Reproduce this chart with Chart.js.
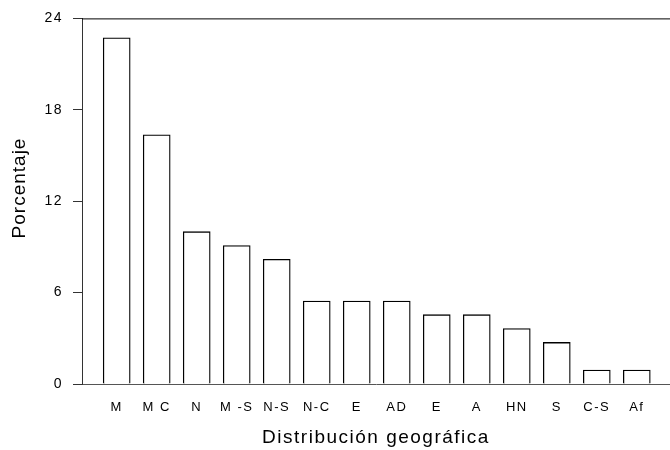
<!DOCTYPE html>
<html>
<head>
<meta charset="utf-8">
<script src="https://cdn.jsdelivr.net/npm/chart.js@4/dist/chart.umd.min.js"></script>
<style>
  html, body { margin: 0; padding: 0; background: #fff; }
  #wrap { width: 670px; height: 450px; }
</style>
</head>
<body>
<div id="wrap"><canvas id="bar-chart-distribucion"></canvas></div>
<script>
// categorias (la E aparece dos veces en el original)
var categorias = ["M", "M C", "N", "M -S", "N-S", "N-C", "E", "AD", "E", "A", "HN", "S", "C-S", "Af"];
var porcentajes = [22.73, 16.36, 10.0, 9.09, 8.18, 5.45, 5.45, 5.45, 4.55, 4.55, 3.64, 2.73, 0.91, 0.91];
var yTicks = [0, 6, 12, 18, 24];
var tituloX = "Distribución geográfica";
var tituloY = "Porcentaje";

var puntos = [];
porcentajes.forEach(function(val, i) {
    puntos.push({ x: i, y: val });
});

// marco superior + titulo del eje y
var marco = {
    id: 'marco',
    beforeDraw: function(chart) {
        chart.ctx.letterSpacing = '1.5px';
    },
    afterDraw: function(chart) {
        var ctx = chart.ctx, a = chart.chartArea;
        ctx.save();
        ctx.strokeStyle = '#000';
        ctx.lineWidth = 1;
        ctx.beginPath();
        ctx.moveTo(a.left, a.top + 0.5);
        ctx.lineTo(chart.width, a.top + 0.5);
        ctx.stroke();
        ctx.translate(20, 188);
        ctx.rotate(-Math.PI / 2);
        ctx.fillStyle = '#000';
        ctx.letterSpacing = '1px';
        ctx.font = '19px "Liberation Sans", Arial, sans-serif';
        ctx.textAlign = 'center';
        ctx.textBaseline = 'middle';
        ctx.fillText(tituloY, 0, 0);
        ctx.restore();
    }
};

new Chart(document.getElementById("bar-chart-distribucion"), {
    type: 'bar',
    data: {
        datasets: [{
            label: tituloY,
            data: puntos,
            backgroundColor: '#fff',
            borderColor: '#000',
            borderWidth: 1.3,
            borderSkipped: 'bottom',
            barThickness: 27
        }]
    },
    plugins: [marco],
    options: {
        responsive: true,
        maintainAspectRatio: false,
        animation: false,
        layout: { padding: { top: 18, right: 0, left: 0, bottom: 0 } },
        plugins: {
            legend: { display: false },
            tooltip: { enabled: false }
        },
        scales: {
            x: {
                type: 'linear',
                offset: false,
                min: -0.8675,
                max: 13.83,
                afterBuildTicks: function(scale) {
                    scale.ticks = categorias.map(function(c, i) { return { value: i }; });
                },
                afterFit: function(scale) { scale.height = 66; },
                grid: { display: true, drawOnChartArea: false, drawTicks: false },
                border: { color: '#555', width: 1 },
                ticks: {
                    autoSkip: false,
                    maxRotation: 0,
                    padding: 16,
                    color: '#000',
                    font: { family: '"Liberation Sans", Arial, sans-serif', size: 13 },
                    callback: function(v) { return categorias[v]; }
                },
                title: {
                    display: true,
                    text: tituloX,
                    color: '#000',
                    font: { family: '"Liberation Sans", Arial, sans-serif', size: 19 },
                    padding: { top: 0, bottom: 1 }
                }
            },
            y: {
                min: 0,
                max: 24,
                afterBuildTicks: function(scale) {
                    scale.ticks = yTicks.map(function(t) { return { value: t }; });
                },
                afterFit: function(scale) { scale.width = 82; },
                grid: { drawOnChartArea: false, tickLength: 9, color: '#333' },
                border: { color: '#333', width: 1 },
                ticks: {
                    padding: 10,
                    color: '#000',
                    font: { family: '"Liberation Sans", Arial, sans-serif', size: 14 }
                }
            }
        }
    }
});
</script>
</body>
</html>
